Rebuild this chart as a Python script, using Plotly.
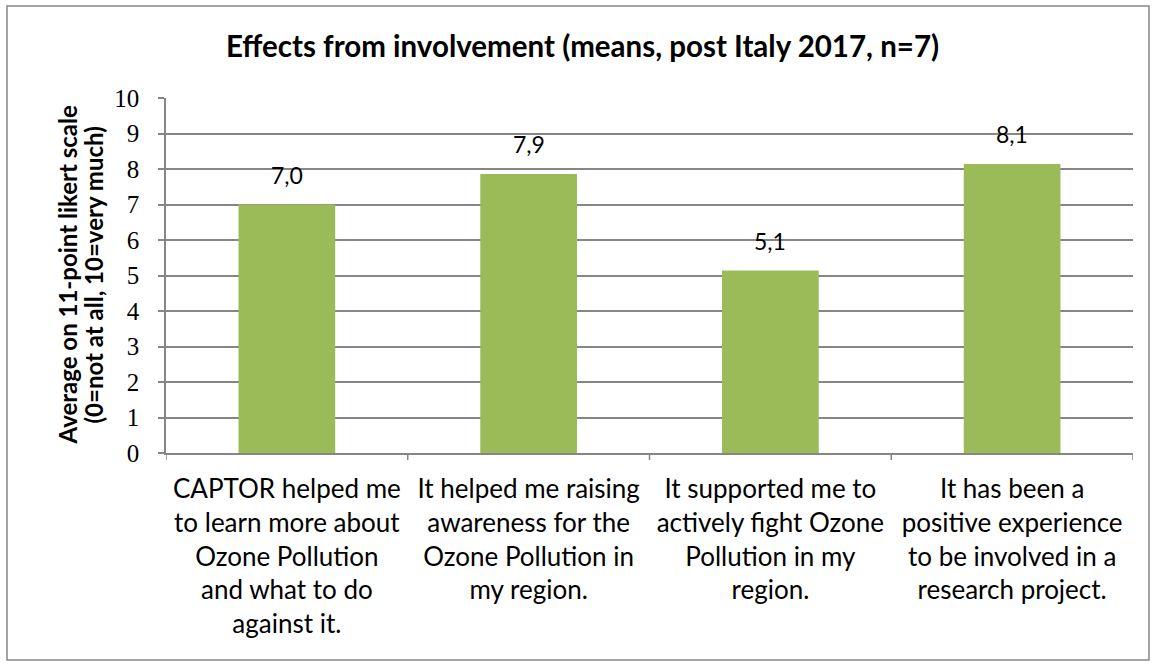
import plotly.graph_objects as go

# Survey items (x categories) and mean scores on the 0-10 scale
categories = [
    "CAPTOR helped me<br>to learn more about<br>Ozone Pollution<br>and what to do<br>against it.",
    "It helped me raising<br>awareness for the<br>Ozone Pollution in<br>my region.",
    "It supported me to<br>actively fight Ozone<br>Pollution in my<br>region.",
    "It has been a<br>positive experience<br>to be involved in a<br>research project.",
]
means = [7.0, 7.86, 5.14, 8.14]
y_ticks = list(range(0, 11))

title_text = "Effects from involvement (means, post Italy 2017, n=7)"
y_title_lines = ["Average on 11-point likert scale", "(0=not at all, 10=very much)"]

W, H = 1156, 666
L, R, T, B = 166, 23, 98, 213
pw, ph = W - L - R, H - T - B

sans = "Lato, 'Open Sans', sans-serif"
serif = "'Liberation Serif', 'DejaVu Serif', serif"
grey = "#868686"

x_pos = list(range(len(categories)))

fig = go.Figure(
    go.Bar(
        x=x_pos,
        y=means,
        width=0.4,
        marker=dict(color="#9BBB59", line=dict(width=0)),
        hoverinfo="skip",
    )
)

# Value labels above each bar, formatted with a decimal comma
for xi, v in zip(x_pos, means):
    fig.add_annotation(
        x=xi, y=v, xref="x", yref="y",
        text=f"{v:.1f}".replace(".", ","),
        showarrow=False,
        yanchor="middle",
        yshift=30,
        font=dict(family=sans, size=23, color="#000000"),
    )

fig.update_layout(
    width=W,
    height=H,
    margin=dict(l=L, r=R, t=T, b=B),
    paper_bgcolor="white",
    plot_bgcolor="white",
    showlegend=False,
    title=dict(
        text="<b>" + title_text + "</b>",
        x=(225 + 940) / 2 / W,
        xanchor="center",
        y=1 - 47 / H,
        yanchor="middle",
        font=dict(family=sans, size=29.5, color="#000000"),
    ),
    xaxis=dict(
        range=[-0.5, len(categories) - 0.5],
        tickmode="array",
        tickvals=x_pos,
        ticktext=categories,
        ticks="",
        ticklabelstandoff=12,
        showgrid=False,
        showline=True,
        linecolor=grey,
        linewidth=1.5,
        tickfont=dict(family=sans, size=26, color="#000000"),
        zeroline=False,
    ),
    yaxis=dict(
        range=[0, 10],
        tickmode="array",
        tickvals=y_ticks,
        ticks="outside",
        ticklen=6,
        tickcolor=grey,
        tickwidth=1.5,
        ticklabelstandoff=14,
        showline=True,
        linecolor=grey,
        linewidth=1.5,
        showgrid=True,
        gridcolor=grey,
        gridwidth=1.5,
        zeroline=False,
        tickfont=dict(family=serif, size=25, color="#000000"),
    ),
)

# Two-line y-axis title
for px_x, line in zip([67, 93], y_title_lines):
    fig.add_annotation(
        x=(px_x - L) / pw, y=0.5, xref="paper", yref="paper",
        text="<b>" + line + "</b>",
        textangle=-90,
        showarrow=False,
        xanchor="center", yanchor="middle",
        font=dict(family=sans, size=24, color="#000000"),
    )

# Category boundary tick marks below the x axis
for b in [i - 0.5 for i in range(len(categories) + 1)]:
    fig.add_shape(
        type="line", xref="x", yref="paper",
        x0=b, x1=b, y0=0, y1=-7 / ph,
        line=dict(color=grey, width=1.5),
    )

# Outer chart frame
fig.add_shape(
    type="rect", xref="paper", yref="paper",
    x0=(7 - L) / pw, x1=(W - 7 - L) / pw,
    y0=-(H - 6 - (H - B)) / ph, y1=(H - B - 6) / ph,
    line=dict(color=grey, width=1.5),
    fillcolor="rgba(0,0,0,0)",
    layer="below",
)

fig.write_html("out.html")
